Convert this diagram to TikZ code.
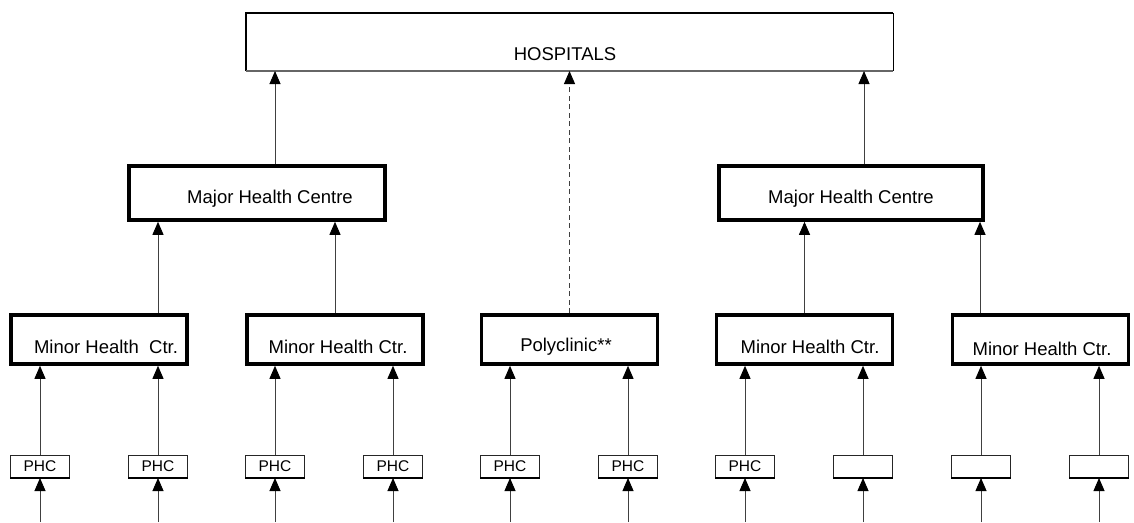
\documentclass[tikz,border=0pt]{standalone}
\usepackage{fontspec}
\setmainfont{Liberation Sans}
\usetikzlibrary{arrows.meta}
\begin{document}
\begin{tikzpicture}[x=1pt,y=-1pt,
  lbl/.style={font=\fontsize{18.5}{21}\selectfont, inner sep=0pt, anchor=center},
  majbox/.style={draw=black, line width=3.6pt, minimum height=54pt, inner sep=0pt},
  minbox/.style={draw=black, line width=3.6pt, minimum width=176pt, minimum height=49pt, inner sep=0pt},
  phcbox/.style={draw=black!85, line width=1pt, minimum width=59pt, minimum height=22pt, inner sep=0pt,
                 font=\fontsize{15.5}{17}\selectfont},
  arr/.style={draw=black!75, line width=0.9pt, -{Triangle[width=11pt,length=13pt,color=black]}},
  darr/.style={arr, dash pattern=on 5pt off 3.5pt}
]
\useasboundingbox (0,0) rectangle (1134,522);

% hospitals
\node[minimum width=647pt, minimum height=58pt, inner sep=0pt, outer sep=0pt] (hosp) at (569.5,42) {};
\draw[line width=2.4pt] (hosp.south west) -- (hosp.north west) -- (hosp.north east);
\draw[line width=1pt] (hosp.north east) -- (hosp.south east);
\draw[line width=1.2pt, black!60] (hosp.south west) -- (hosp.south east);
\node[lbl] (hosptxt) at (565,54) {HOSPITALS};

% major health centres
\node[majbox, minimum width=256pt] (maj1) at (257,193) {};
\node[lbl] (maj1txt) at (270,199) {Major Health Centre};
\node[majbox, minimum width=264pt] (maj2) at (851,193) {};
\node[lbl] (maj2txt) at (851,199) {Major Health Centre};

% minor level
\node[minbox] (min1) at (99,339.5) {};
\node[lbl] (min1txt) at (106,347) {Minor Health\ \ Ctr.};
\node[minbox] (min2) at (335,339.5) {};
\node[lbl] (min2txt) at (338,347) {Minor Health Ctr.};
\node[minbox] (poly) at (569.5,339.5) {};
\node[lbl] (polytxt) at (566,347) {Polyclinic**};
\node[minbox] (min4) at (804.5,339.5) {};
\node[lbl] (min4txt) at (810,347) {Minor Health Ctr.};
\node[minbox] (min5) at (1040.5,339.5) {};
\node[lbl] (min5txt) at (1042,349) {Minor Health Ctr.};

% PHC level
\foreach \i/\x/\t in {1/40/PHC,2/158/PHC,3/275/PHC,4/393/PHC,5/510/PHC,6/628/PHC,7/745/PHC,8/863/,9/981/,10/1099/}{
  \node[phcbox] (phc\i) at (\x,466.5) {\t};
  \draw[line width=1.6pt] (phc\i.south west) -- (phc\i.south east);
  \coordinate (b\i) at (\x,522);
  \draw[arr] (b\i) -- (phc\i.south);
}

% PHC -> minor
\draw[arr] (phc1.north) -- (min1.south -| phc1.north);
\draw[arr] (phc2.north) -- (min1.south -| phc2.north);
\draw[arr] (phc3.north) -- (min2.south -| phc3.north);
\draw[arr] (phc4.north) -- (min2.south -| phc4.north);
\draw[arr] (phc5.north) -- (poly.south -| phc5.north);
\draw[arr] (phc6.north) -- (poly.south -| phc6.north);
\draw[arr] (phc7.north) -- (min4.south -| phc7.north);
\draw[arr] (phc8.north) -- (min4.south -| phc8.north);
\draw[arr] (phc9.north) -- (min5.south -| phc9.north);
\draw[arr] (phc10.north) -- (min5.south -| phc10.north);

% minor -> major
\draw[arr] (min1.north -| phc2.north) -- (maj1.south -| phc2.north);
\draw[arr] (min2.north) -- (maj1.south -| min2.north);
\draw[arr] (min4.north) -- (maj2.south -| min4.north);
\draw[arr] (min5.north -| 980,0) -- (maj2.south -| 980,0);
\draw[darr] (poly.north) -- (hosp.south -| poly.north);

% major -> hospitals
\draw[arr] (maj1.north -| 275,0) -- (hosp.south -| 275,0);
\draw[arr] (maj2.north -| 864,0) -- (hosp.south -| 864,0);
\end{tikzpicture}
\end{document}
